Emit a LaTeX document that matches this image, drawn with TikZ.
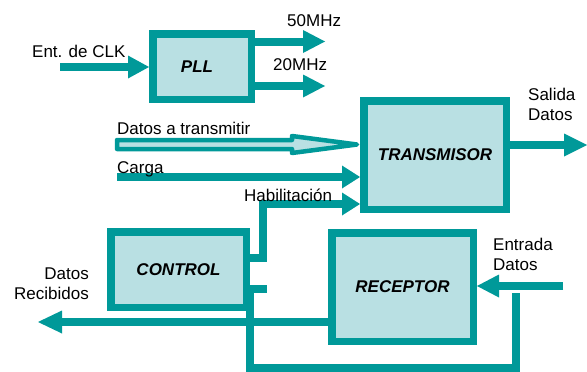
\documentclass[tikz,border=0pt]{standalone}
\usepackage{fontspec}
\setmainfont{Liberation Sans}
\usetikzlibrary{arrows.meta,calc}
\definecolor{tealA}{RGB}{0,153,153}
\definecolor{lightbox}{RGB}{185,224,227}
\begin{document}
\begin{tikzpicture}[x=1pt,y=-1pt,
  blk/.style={rectangle,draw=tealA,fill=lightbox,line width=7.5pt,outer sep=3.75pt,inner sep=0pt,
    font=\fontsize{17}{20}\selectfont\bfseries\itshape,text=black},
  lbl/.style={inner sep=0pt,font=\fontsize{17}{19.5}\selectfont,text=black},
  wire/.style={draw=tealA,line width=8pt,line join=miter},
  headarr/.style={wire,-{Triangle[length=#1,width=23pt,line width=0pt]}},
  headarr/.default=20pt
]
\useasboundingbox (0,0) rectangle (587,372);

% blocks
\node[blk,minimum width=98.5pt,minimum height=65.5pt] (pll) at (202,66.5) {\hspace*{-10pt}PLL};
\node[blk,minimum width=142.5pt,minimum height=108.5pt] (trans) at (435,155) {TRANSMISOR};
\node[blk,minimum width=135.5pt,minimum height=75.5pt] (control) at (178.5,269.5) {CONTROL};
\node[blk,minimum width=141.5pt,minimum height=108.5pt] (recep) at (402.5,287) {RECEPTOR};

% free ends
\coordinate (clkin) at (60,67);
\coordinate (o50) at (325,41.5);
\coordinate (o20) at (325,86);
\coordinate (dt) at (117,144.5);
\coordinate (carga) at (117,177);
\coordinate (h0) at (263,257.5);
\coordinate (hab) at (263,204);
\coordinate (stub) at (267,288.5);
\coordinate (lp1) at (249.5,293);
\coordinate (lp2) at (516,293);
\coordinate (lb) at (516,368);
\coordinate (drec) at (38,322);
\coordinate (ent) at (563,286);
\coordinate (sal) at (587,145);

% connectors
\draw[headarr=21pt] (clkin) -- (clkin -| pll.west);
\draw[headarr=22pt] (pll.east |- o50) -- (o50);
\draw[headarr=22pt] (pll.east |- o20) -- (o20);
\draw[headarr=18pt] (carga) -- (carga -| trans.west);
\draw[headarr=18pt] (control.east |- h0) -- (h0) -- (hab) -- (hab -| trans.west);
\draw[wire] (stub -| control.east) -- (stub);
\draw[wire] (lp1) |- (lb) -- (lp2);
\draw[headarr=24pt] (drec -| recep.west) -- (drec);
\draw[headarr=22pt] (ent) -- (ent -| recep.east);
\draw[headarr=23pt] (sal -| trans.east) -- (sal);

% hollow arrow "Datos a transmitir"
\draw[draw=tealA,fill=lightbox,line width=4.5pt,line join=round]
  ($(dt)+(0,-4.5)$) -- ++(175,0) -- ++(0,-4) -- ($(dt -| trans.west)+(-3,0)$)
  -- ($(dt)+(175,8.5)$) -- ++(0,-4) -- ($(dt)+(0,4.5)$) -- cycle;

% labels
\node[lbl,anchor=base west] (tclk) at (32,57) {Ent. de CLK};
\node[lbl,anchor=base west] (t50) at (287,26) {50MHz};
\node[lbl,anchor=base west] (t20) at (273,70) {20MHz};
\node[lbl,anchor=base west] (tdt) at (117,134) {Datos a transmitir};
\node[lbl,anchor=base west] (tcarga) at (117,173) {Carga};
\node[lbl,anchor=base west] (thab) at (244,201) {Habilitación};
\node[lbl,anchor=north west,align=left] (tsal) at (528,88) {Salida\\Datos};
\node[lbl,anchor=north west,align=left] (tent) at (493,238) {Entrada\\Datos};
\node[lbl,anchor=north east,align=right] (trec) at (89,268) {Datos\\Recibidos};
\end{tikzpicture}
\end{document}
